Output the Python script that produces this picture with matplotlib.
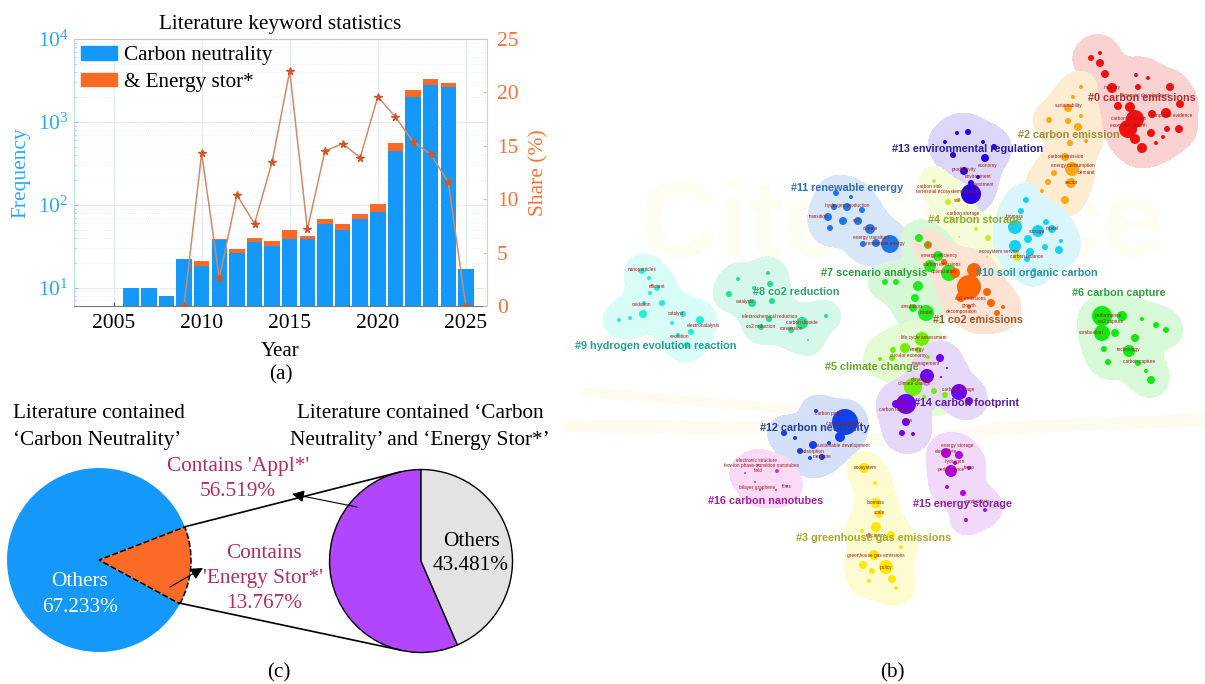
import matplotlib
matplotlib.use('Agg')
import matplotlib.pyplot as plt
import numpy as np
from matplotlib.patches import Circle, Patch
from matplotlib.ticker import LogLocator, NullFormatter

# (a) keyword statistics
years = [2006, 2007, 2008, 2009, 2010, 2011, 2012, 2013, 2014, 2015, 2016, 2017, 2018, 2019, 2020, 2021, 2022, 2023, 2024, 2025]
carbon_neutrality = [10, 10, 8, 22, 18, 38, 26, 36, 32, 39, 39, 58, 49, 67, 82, 450, 2000, 2800, 2600, 17]
energy_stor_top = [10, 10, 8, 22, 21, 39, 29, 40, 37, 50, 42, 68, 58, 78, 102, 550, 2400, 3300, 2950, 17]
share_years = [2009, 2010, 2011, 2012, 2013, 2014, 2015, 2016, 2017, 2018, 2019, 2020, 2021, 2022, 2023, 2024, 2025]
share = [0, 14.3, 2.6, 10.4, 7.7, 13.5, 22, 7.2, 14.5, 15.2, 13.9, 19.6, 17.7, 15.4, 14.2, 11.6, 0]

# (c) pies
left_pie = [13.767, 86.233]
right_pie = [56.519, 43.481]

# (b) map nodes: x, y, radius in picture pixels
nodes_0 = [(1091,58,3),(1100,53,2),(1100,63,4),(1105,74,4),(1136,75,2),(1148,78,2),(1112,88,5),(1138,87,3),(1170,87,4),(1118,106,4),(1130,107,5),(1135,119,9),(1152,114,4),(1166,113,5),(1180,104,4),(1128,129,9),(1135,139,5),(1151,133,4),(1163,137,2),(1167,129,3),(1179,129,4),(1156,143,2),(1142,148,5)]
nodes_2 = [(1081,87,2),(1073,97,2),(1068,108,4),(1081,116,2),(1049,120,3),(1068,121,3),(1078,127,4),(1086,141,2),(1070,143,3),(1065,157,4),(1072,169,7),(1054,173,3),(1048,182,3),(1071,183,5),(1042,191,2),(1065,200,4)]
nodes_13 = [(957,133,2),(968,132,3),(945,142,2),(983,142,2),(994,147,3),(953,155,3),(985,158,4),(964,171,4),(978,177,2),(971,183,3),(971,194,10)]
nodes_4 = [(934,181,2),(948,202,3),(958,200,2),(950,217,1),(976,229,2),(959,237,1),(988,238,3),(987,257,1),(1017,257,4)]
nodes_10 = [(1026,200,3),(1021,211,3),(1015,227,7),(1038,231,6),(1052,229,4),(1046,222,3),(1028,239,4),(1015,246,6),(1030,252,4),(1045,247,3),(1061,241,2),(1059,250,4),(1027,259,3),(1034,270,2)]
nodes_11 = [(836,193,3),(851,197,2),(834,207,3),(847,207,4),(862,210,3),(828,217,4),(843,221,4),(858,221,4),(830,228,3),(870,229,5),(876,243,4),(890,244,9),(863,244,3)]
nodes_7 = [(919,238,4),(928,245,4),(938,256,5),(930,266,6),(949,273,8),(885,282,3),(896,282,3),(918,286,5),(915,298,4),(913,308,4),(926,313,8)]
nodes_1 = [(974,270,7),(969,287,12),(955,273,5),(944,262,3),(928,245,3),(961,297,5),(987,292,4),(991,303,4),(1003,307,2),(969,307,2),(997,313,3),(979,317,1)]
nodes_8 = [(738,279,2),(768,273,2),(770,284,3),(729,294,3),(754,288,2),(772,301,3),(752,303,4),(769,319,3),(802,323,6),(826,316,2),(761,327,3),(791,330,3),(808,340,1)]
nodes_9 = [(642,271,3),(649,278,2),(657,288,3),(650,293,2),(644,303,2),(662,303,3),(643,314,4),(630,318,2),(619,320,2),(683,314,3),(672,323,2),(700,320,4),(691,332,3),(687,345,3),(678,335,2)]
nodes_6 = [(1102,316,10),(1122,316,5),(1102,333,8),(1115,333,4),(1142,319,2),(1156,325,3),(1166,330,3),(1135,338,4),(1104,349,3),(1129,351,6),(1108,362,3),(1138,363,3),(1146,371,2),(1151,380,4)]
nodes_5 = [(922,339,7),(905,348,5),(893,350,3),(880,359,2),(892,358,3),(928,357,2),(918,350,3),(913,387,9),(934,391,3),(945,395,3),(924,397,2)]
nodes_14 = [(940,358,4),(947,368,1),(927,376,7),(941,377,1),(959,392,8),(969,401,4),(906,404,10),(896,404,4),(906,422,4),(902,433,3),(913,434,2)]
nodes_12 = [(816,411,2),(845,422,13),(840,437,5),(784,433,3),(795,438,2),(813,445,4),(800,451,3),(810,458,2),(822,457,3),(829,443,2)]
nodes_16 = [(745,473,1),(758,465,1),(777,471,2),(755,482,1),(776,490,1),(787,486,1),(760,490,1)]
nodes_15 = [(946,453,5),(959,455,4),(955,463,2),(969,468,2),(951,471,6),(947,487,2),(963,493,3),(981,502,1),(985,510,2),(966,520,2)]
nodes_3 = [(864,468,5),(875,483,2),(876,503,5),(879,514,4),(876,527,5),(862,531,2),(891,535,4),(876,538,2),(901,547,2),(874,555,5),(863,565,4),(872,571,3),(886,567,7),(892,579,4),(869,581,2),(896,588,2)]

cluster_nodes = [nodes_0, nodes_2, nodes_13, nodes_4, nodes_10, nodes_11, nodes_7, nodes_1, nodes_8, nodes_9, nodes_6, nodes_5, nodes_14, nodes_12, nodes_16, nodes_15, nodes_3]
cluster_fill = ['#fbd2d2','#fdecd0','#dcd6f8','#f4fcd8','#d8f6fc','#d8e6f9','#d6f8d6','#fbe4d4','#d6f8ea','#d8fcf6','#d8f9d8','#e4fad2','#e6d8f9','#d4dff9','#fadaf7','#f0d9fa','#fdfcd0']
cluster_node = ['#f01010','#f8a810','#2a00e0','#c4f020','#18d0f4','#1e78e8','#20ea20','#ff6400','#20e28c','#20f0d8','#10e810','#70f000','#7000f0','#1040f0','#e820d8','#b400e4','#ffe800']

cluster_names = ['#0 carbon emissions','#2 carbon emission','#13 environmental regulation','#11 renewable energy','#4 carbon storage','#7 scenario analysis','#10 soil organic carbon','#8 co2 reduction','#6 carbon capture','#1 co2 emissions','#9 hydrogen evolution reaction','#5 climate change','#14 carbon footprint','#12 carbon neutrality','#16 carbon nanotubes','#15 energy storage','#3 greenhouse gas emissions']
name_x = [1088,1018,892,791,928,821,976,753,1072,933,575,825,914,760,708,913,796]
name_y = [98,135,149,188,220,273,273,292,293,320,346,367,403,428,501,504,538]
name_color = ['#b03038','#a08c38','#2c1c9c','#2c70b0','#8ca830','#2c9c40','#2c90a8','#30a070','#30a040','#a05a30','#20a090','#6aa82c','#5a20a0','#2040a0','#a020a0','#8a20b0','#a8a830']

keywords = [('industry',1112,87),('financial development',1145,96),('sustainability',1069,106),('carbon emission',1129,118),('empirical evidence',1172,115),('economic growth',1128,126),
('carbon emission',1066,157),('energy consumption',1073,166),('demand',1087,172),('sector',1071,183),('productivity',964,170),('economy',988,165),('environment',978,176),('investment',982,185),('impact',972,192),
('carbon sink',929,186),('terrestrial ecosystems',940,191),('soil',958,200),('carbon storage',963,213),('hydrogen production',847,205),('transition',819,216),('co2',857,221),('climate',870,229),('energy transition',871,237),('renewable energy',885,243),
('storage',1037,231),('model',1052,228),('biomass',1015,217),('ecosystem service',999,251),('carbon balance',1027,257),('energy efficiency',939,255),('carbon emissions',942,264),('optimization',944,272),
('co2 emissions',970,299),('growth',969,305),('decomposition',962,311),('simulation',912,306),('model',926,312),('nanoparticles',642,269),('efficient',657,287),('oxidation',641,305),('catalyst',676,313),('electrocatalysis',703,325),('evolution',679,336),
('electrochemical reduction',770,316),('co2 reduction',761,326),('carbon dioxide',802,322),('conversion',791,329),('catalysts',745,302),('performance',1108,315),('co2 capture',1111,322),('combustion',1091,332),('technology',1129,350),('carbon capture',1139,361),
('life cycle assessment',924,338),('energy',917,349),('circular economy',908,355),('management',926,363),('dynamics',921,379),('climate change',914,384),('carbon storage',958,390),('china',901,403),('carbon footprint',896,410),('cities',907,421),
('carbon policy',829,414),('carbon neutrality',844,423),('sustainable development',843,445),('adsorption',813,451),('methane',822,456),('electronic structure',756,461),('few-ion phase-transition nanotubes',762,466),('field',758,471),('bilayer graphene',757,487),('films',787,486),
('energy storage',957,446),('electrolyte',946,452),('hydrogen',955,461),('temp',969,467),('performance',951,470),('conductivity',977,501),('ecosystem',865,467),('biomass',876,503),('scale',879,513),('efficiency',876,535),('greenhouse gas emissions',876,555),('policy',886,567)]

W, H = 1205, 684
serif = 'Liberation Serif'
blue = '#1499fa'
orange = '#fb6a26'
tick_blue = '#2ea6ff'
tick_orange = '#f0743a'
crimson = '#ad2f5e'

def rect(x0, y0, x1, y1):
    return [x0 / W, 1 - y1 / H, (x1 - x0) / W, (y1 - y0) / H]

fig = plt.figure(figsize=(W / 100, H / 100), dpi=100, facecolor='white')

# Overlay in picture pixels, used for map (b) and captions
bg = fig.add_axes([0, 0, 1, 1], zorder=0)
bg.set_xlim(0, W)
bg.set_ylim(H, 0)
bg.axis('off')

bg.text(640, 228, 'CiteSpace', fontsize=78, fontweight='bold', family='Liberation Sans', color='#fffcf1', va='center', ha='left', zorder=1)
bg.plot([570, 800, 880], [426, 428, 440], color='#fffbf0', lw=9, zorder=1)
bg.plot([1205, 1000, 930], [420, 428, 440], color='#fffbf0', lw=9, zorder=1)
bg.plot([585, 800], [392, 410], color='#fffbf0', lw=7, zorder=1)

# Smooth cluster hulls: contour of a sum of bumps round the nodes
gx, gy = np.meshgrid(np.arange(560, W, 2.0), np.arange(30, 610, 2.0))
for nodes, fill in zip(cluster_nodes, cluster_fill):
    field = np.zeros_like(gx)
    for x, y, r in nodes:
        field += np.exp(-((gx - x) ** 2 + (gy - y) ** 2) / (2 * (10 + r * 0.5) ** 2))
    bg.contourf(gx, gy, field, levels=[0.42, 1000], colors=[fill], zorder=2)
for nodes, col in zip(cluster_nodes, cluster_node):
    for x, y, r in nodes:
        bg.add_patch(Circle((x, y), r, fc=col, ec='none', zorder=3))
for word, x, y in keywords:
    bg.text(x, y, word, fontsize=3.4, color='#a01818', ha='center', va='center', family='Liberation Sans', zorder=4)
for name, x, y, col in zip(cluster_names, name_x, name_y, name_color):
    bg.text(x, y, name, fontsize=7.8, fontweight='bold', color=col, ha='left', va='center', family='Liberation Sans', zorder=5)

# (a) bars on log scale, share on second axis
ax = fig.add_axes(rect(74, 39, 487, 306), zorder=2)
ax.set_yscale('log')
ax.bar(years, energy_stor_top, width=0.88, color=orange, zorder=3)
ax.bar(years, carbon_neutrality, width=0.88, color=blue, zorder=4)
ax.set_xlim(2002.75, 2026.2)
ax.set_ylim(6, 10000)
ax.set_xticks([2005, 2010, 2015, 2020, 2025])
ax.yaxis.set_major_locator(LogLocator(base=10, numticks=6))
ax.yaxis.set_minor_locator(LogLocator(base=10, subs=range(2, 10), numticks=6))
ax.yaxis.set_minor_formatter(NullFormatter())
ax.grid(True, which='major', color='#e4ecf1', lw=0.8, zorder=0)
ax.grid(True, which='minor', axis='y', color='#e6e6e6', lw=0.5, ls=':', zorder=0)
ax.tick_params(axis='x', labelsize=15.5, length=3, direction='in', colors='#555555', labelcolor='black', pad=6)
ax.tick_params(axis='y', which='major', labelsize=15.5, length=3, direction='in', color='#7fc4f5', labelcolor=tick_blue, pad=4)
ax.tick_params(axis='y', which='minor', length=1.5, direction='in', color='#7fc4f5')
for lab in ax.get_xticklabels() + ax.get_yticklabels():
    lab.set_family(serif)
ax.set_xlabel('Year', fontsize=15, family=serif, labelpad=6)
ax.set_ylabel('Frequency', fontsize=15.5, family=serif, color=tick_blue, labelpad=5)
ax.set_title('Literature keyword statistics', fontsize=15.3, family=serif, pad=7)
ax.spines['left'].set_color('#b5dcf5')
ax.spines['top'].set_color('#c4c8cc')
ax.spines['bottom'].set_color('#777777')
ax.spines['right'].set_visible(False)
ax.legend(handles=[Patch(color=blue, label='Carbon neutrality'), Patch(color=orange, label='& Energy stor*')],
          loc='upper left', frameon=False, prop={'family': serif, 'size': 15.2},
          handlelength=1.7, handleheight=0.62, labelspacing=0.35, handletextpad=0.33, borderaxespad=0.33, borderpad=0)

ax2 = ax.twinx()
ax2.plot(share_years, share, color='#cf8a68', lw=1.1, marker='*', ms=5.5, mfc='#d2562a', mec='#d2562a', zorder=6)
ax2.set_ylim(0, 25)
ax2.set_yticks([0, 5, 10, 15, 20, 25])
ax2.tick_params(axis='y', labelsize=15.5, length=3, direction='in', color='#eab9a0', labelcolor=tick_orange, pad=7)
for lab in ax2.get_yticklabels():
    lab.set_family(serif)
ax2.set_ylabel('Share (%)', fontsize=15.5, family=serif, color=tick_orange, labelpad=8)
ax2.spines['right'].set_color('#eecbb8')
ax2.spines['left'].set_visible(False)
ax2.spines['top'].set_visible(False)
ax2.spines['bottom'].set_visible(False)

# (c) pies
pie1 = fig.add_axes(rect(99 - 93, 560 - 93, 99 + 93, 560 + 93), zorder=2)
w1, _ = pie1.pie(left_pie, colors=[orange, blue], startangle=-28.5, radius=92 / 93)
w1[0].set_edgecolor('black')
w1[0].set_linestyle((0, (4, 1.5)))
w1[0].set_linewidth(1.1)
w1[0].set_zorder(5)
pie1.set_xlim(-1, 1)
pie1.set_ylim(-1, 1)

pie2 = fig.add_axes(rect(421 - 93, 561 - 93, 421 + 93, 561 + 93), zorder=2)
pie2.pie(right_pie, colors=['#b246ff', '#e3e3e3'], startangle=90, radius=91.5 / 93,
         wedgeprops={'edgecolor': 'black', 'linewidth': 1.0})
pie2.set_xlim(-1, 1)
pie2.set_ylim(-1, 1)

# Overlay for the lines, arrows and labels of (c)
top = fig.add_axes([0, 0, 1, 1], zorder=3)
top.set_xlim(0, W)
top.set_ylim(H, 0)
top.axis('off')
top.patch.set_alpha(0)
top.plot([184, 400], [527, 472], color='black', lw=1.2)
top.plot([179, 400], [603, 650], color='black', lw=1.2)
top.annotate('', xy=(292, 494), xytext=(357, 507), arrowprops=dict(arrowstyle='-|>', color='black', lw=0.8, mutation_scale=18, shrinkA=0, shrinkB=0))
top.annotate('', xy=(203, 568), xytext=(170, 587), arrowprops=dict(arrowstyle='-|>', color='black', lw=0.8, mutation_scale=18, shrinkA=0, shrinkB=0))

def label(x, y, s, size=15.3, color='black'):
    top.text(x, y, s, fontsize=size, color=color, family=serif, ha='center', va='center')

label(99, 414, 'Literature contained')
label(97, 440, '‘Carbon Neutrality’')
label(420, 414, 'Literature contained ‘Carbon')
label(420, 440, 'Neutrality’ and ‘Energy Stor*’')
label(238, 467, "Contains 'Appl*'", color=crimson)
label(238, 492, '56.519%', color=crimson)
label(264, 553, 'Contains', color=crimson)
label(263, 579, "'Energy Stor*'", color=crimson)
label(264, 604, '13.767%', color=crimson)
label(80, 582, 'Others', color='white')
label(80, 608, '67.233%', color='white')
label(471, 541, 'Others')
label(471, 566, '43.481%')
label(281, 375, '(a)')
label(279, 673, '(c)')
label(892, 673, '(b)')

fig.savefig('out.png', dpi=100)
